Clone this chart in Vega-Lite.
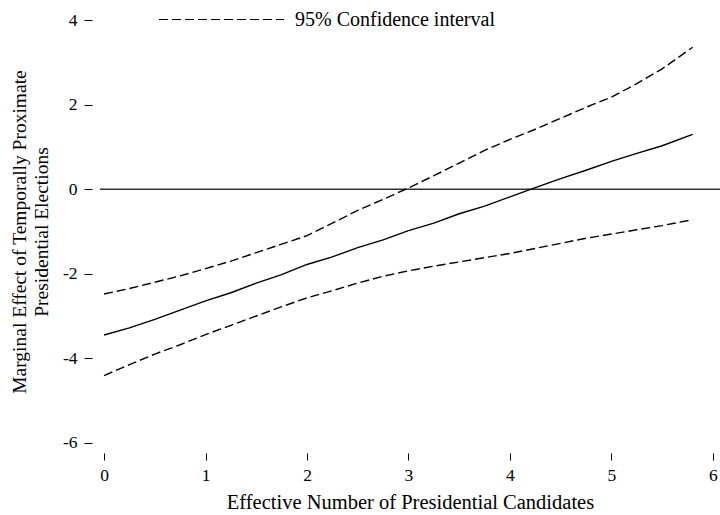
{
  "$schema": "https://vega.github.io/schema/vega-lite/v6.json",
  "autosize": {"type": "none"},
  "padding": {"left": 100, "top": 16, "right": 0, "bottom": 68},
  "width": 620,
  "height": 431,
  "config": {
    "view": {"stroke": null},
    "font": "Liberation Serif",
    "axis": {"domain": false, "grid": false, "tickColor": "#000", "labelColor": "#000", "titleColor": "#000", "labelFont": "Liberation Serif", "titleFont": "Liberation Serif", "titleFontWeight": "normal", "labelFontSize": 17.5, "titleFontSize": 19, "format": "d", "labelExpr": "replace(datum.label, '−', '-')"}
  },
  "datasets": {
    "curves": [
      {"x": 0, "series": "Estimate", "value": -3.45},
      {"x": 0.25, "series": "Estimate", "value": -3.28},
      {"x": 0.5, "series": "Estimate", "value": -3.08},
      {"x": 0.75, "series": "Estimate", "value": -2.86},
      {"x": 1, "series": "Estimate", "value": -2.64},
      {"x": 1.25, "series": "Estimate", "value": -2.45},
      {"x": 1.5, "series": "Estimate", "value": -2.22},
      {"x": 1.75, "series": "Estimate", "value": -2.02},
      {"x": 2, "series": "Estimate", "value": -1.78},
      {"x": 2.25, "series": "Estimate", "value": -1.6},
      {"x": 2.5, "series": "Estimate", "value": -1.38},
      {"x": 2.75, "series": "Estimate", "value": -1.2},
      {"x": 3, "series": "Estimate", "value": -0.98},
      {"x": 3.25, "series": "Estimate", "value": -0.8},
      {"x": 3.5, "series": "Estimate", "value": -0.58},
      {"x": 3.75, "series": "Estimate", "value": -0.4},
      {"x": 4, "series": "Estimate", "value": -0.18},
      {"x": 4.25, "series": "Estimate", "value": 0.04},
      {"x": 4.5, "series": "Estimate", "value": 0.25},
      {"x": 4.75, "series": "Estimate", "value": 0.45},
      {"x": 5, "series": "Estimate", "value": 0.66},
      {"x": 5.25, "series": "Estimate", "value": 0.85},
      {"x": 5.5, "series": "Estimate", "value": 1.03},
      {"x": 5.8, "series": "Estimate", "value": 1.3},
      {"x": 0, "series": "Upper", "value": -2.48},
      {"x": 0.25, "series": "Upper", "value": -2.35},
      {"x": 0.5, "series": "Upper", "value": -2.2},
      {"x": 0.75, "series": "Upper", "value": -2.05},
      {"x": 1, "series": "Upper", "value": -1.88},
      {"x": 1.25, "series": "Upper", "value": -1.7},
      {"x": 1.5, "series": "Upper", "value": -1.5},
      {"x": 1.75, "series": "Upper", "value": -1.3},
      {"x": 2, "series": "Upper", "value": -1.1},
      {"x": 2.25, "series": "Upper", "value": -0.8},
      {"x": 2.5, "series": "Upper", "value": -0.5},
      {"x": 2.75, "series": "Upper", "value": -0.24},
      {"x": 3, "series": "Upper", "value": 0.03},
      {"x": 3.25, "series": "Upper", "value": 0.32},
      {"x": 3.5, "series": "Upper", "value": 0.62},
      {"x": 3.75, "series": "Upper", "value": 0.92},
      {"x": 4, "series": "Upper", "value": 1.18},
      {"x": 4.25, "series": "Upper", "value": 1.42},
      {"x": 4.5, "series": "Upper", "value": 1.68},
      {"x": 4.75, "series": "Upper", "value": 1.94},
      {"x": 5, "series": "Upper", "value": 2.18},
      {"x": 5.25, "series": "Upper", "value": 2.5},
      {"x": 5.5, "series": "Upper", "value": 2.85},
      {"x": 5.8, "series": "Upper", "value": 3.36},
      {"x": 0, "series": "Lower", "value": -4.41},
      {"x": 0.25, "series": "Lower", "value": -4.15},
      {"x": 0.5, "series": "Lower", "value": -3.9},
      {"x": 0.75, "series": "Lower", "value": -3.68},
      {"x": 1, "series": "Lower", "value": -3.44},
      {"x": 1.25, "series": "Lower", "value": -3.22},
      {"x": 1.5, "series": "Lower", "value": -3.0},
      {"x": 1.75, "series": "Lower", "value": -2.78},
      {"x": 2, "series": "Lower", "value": -2.57},
      {"x": 2.25, "series": "Lower", "value": -2.4},
      {"x": 2.5, "series": "Lower", "value": -2.22},
      {"x": 2.75, "series": "Lower", "value": -2.06},
      {"x": 3, "series": "Lower", "value": -1.93},
      {"x": 3.25, "series": "Lower", "value": -1.82},
      {"x": 3.5, "series": "Lower", "value": -1.72},
      {"x": 3.75, "series": "Lower", "value": -1.62},
      {"x": 4, "series": "Lower", "value": -1.52},
      {"x": 4.25, "series": "Lower", "value": -1.4},
      {"x": 4.5, "series": "Lower", "value": -1.28},
      {"x": 4.75, "series": "Lower", "value": -1.16},
      {"x": 5, "series": "Lower", "value": -1.06},
      {"x": 5.25, "series": "Lower", "value": -0.96},
      {"x": 5.5, "series": "Lower", "value": -0.86},
      {"x": 5.8, "series": "Lower", "value": -0.72}
    ],
    "zero": [{"y": 0}]
  },
  "layer": [
    {
      "data": {"name": "zero"},
      "mark": {"type": "rule", "color": "#333", "strokeWidth": 1.5},
      "encoding": {
        "y": {"field": "y", "type": "quantitative", "scale": {"domain": [-6.1, 4.1], "nice": false}}
      }
    },
    {
      "data": {"name": "curves"},
      "transform": [{"filter": "datum.series === 'Estimate'"}],
      "mark": {"type": "line", "color": "#000", "strokeWidth": 1.4},
      "encoding": {
        "x": {"field": "x", "type": "quantitative", "scale": {"domain": [-0.04, 6.07], "nice": false}},
        "y": {"field": "value", "type": "quantitative"}
      }
    },
    {
      "data": {"name": "curves"},
      "transform": [{"filter": "datum.series !== 'Estimate'"}],
      "mark": {"type": "line", "color": "#000", "strokeWidth": 1.4},
      "encoding": {
        "x": {"field": "x", "type": "quantitative",
          "axis": {"values": [0, 1, 2, 3, 4, 5, 6], "title": "Effective Number of Presidential Candidates", "titleFontSize": 20.5, "offset": 6, "tickSize": 7, "labelPadding": 6, "titlePadding": 9, "labelFlush": false}},
        "y": {"field": "value", "type": "quantitative",
          "axis": {"values": [-6, -4, -2, 0, 2, 4], "title": ["Marginal Effect of Temporally Proximate", "Presidential Elections"], "titleFontSize": 19.5, "offset": 8, "tickSize": 8, "labelPadding": 7, "titlePadding": 11, "labelFlush": false}},
        "detail": {"field": "series"},
        "strokeDash": {
          "datum": "95% Confidence interval",
          "scale": {"range": [[9, 4]]},
          "legend": {"title": null, "orient": "none", "legendX": 58, "legendY": -60, "symbolType": "stroke", "symbolSize": 15625, "symbolStrokeWidth": 1.2, "symbolDash": [5, 2, 1, 2], "symbolStrokeColor": "#000", "labelFontSize": 20, "labelLimit": 400, "labelFont": "Liberation Serif", "labelColor": "#000", "labelOffset": 10, "padding": 0}
        }
      }
    }
  ]
}
